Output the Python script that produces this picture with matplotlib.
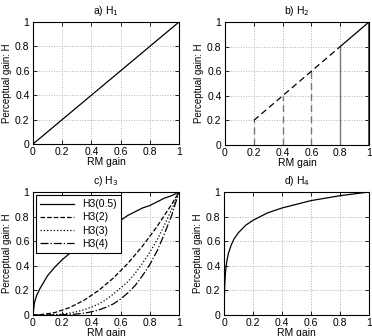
import matplotlib
matplotlib.use("Agg")
import matplotlib.pyplot as plt

plt.rcParams["font.family"] = ["Liberation Sans", "DejaVu Sans"]
plt.rcParams["font.size"] = 7.5

# a) H1: identity
h1_x = [0, 1]
h1_y = [0, 1]

# b) H2: thresholded identity
h2_thresholds = [0.2, 0.4, 0.6, 0.8, 1.0]
h2_dashed_x = [0.2, 0.8]
h2_dashed_y = [0.2, 0.8]
h2_solid_x = [0.8, 1.0]
h2_solid_y = [0.8, 1.0]

# c) H3 curves (read off the picture)
h3_x = [0, 0.01, 0.025, 0.05, 0.1, 0.15, 0.2, 0.25, 0.3, 0.35, 0.4, 0.45, 0.5,
        0.55, 0.6, 0.65, 0.7, 0.75, 0.8, 0.85, 0.9, 0.95, 1.0]
h3_05 = [0, 0.10, 0.16, 0.22, 0.32, 0.39, 0.45, 0.50, 0.55, 0.59, 0.63, 0.67, 0.71,
         0.74, 0.77, 0.81, 0.84, 0.87, 0.89, 0.92, 0.95, 0.97, 1.0]
h3_2 = [0, 0, 0, 0.003, 0.01, 0.02, 0.04, 0.06, 0.09, 0.12, 0.16, 0.20, 0.25,
        0.30, 0.36, 0.42, 0.49, 0.56, 0.64, 0.72, 0.81, 0.90, 1.0]
h3_3 = [0, 0, 0, 0, 0.001, 0.003, 0.008, 0.016, 0.027, 0.043, 0.064, 0.09, 0.125,
        0.17, 0.22, 0.27, 0.34, 0.42, 0.51, 0.61, 0.73, 0.86, 1.0]
h3_4 = [0, 0, 0, 0, 0, 0.001, 0.002, 0.004, 0.008, 0.015, 0.026, 0.041, 0.063,
        0.09, 0.13, 0.18, 0.24, 0.32, 0.41, 0.52, 0.66, 0.81, 1.0]
h3_labels = ["H3(0.5)", "H3(2)", "H3(3)", "H3(4)"]

# d) H4 curve (read off the picture)
h4_x = [0.001, 0.002, 0.004, 0.007, 0.01, 0.015, 0.02, 0.03, 0.05, 0.07, 0.1, 0.15,
        0.2, 0.3, 0.4, 0.5, 0.6, 0.7, 0.8, 0.9, 1.0]
h4_y = [0.01, 0.11, 0.21, 0.29, 0.34, 0.40, 0.44, 0.50, 0.57, 0.62, 0.67, 0.73,
        0.77, 0.83, 0.87, 0.90, 0.93, 0.95, 0.97, 0.985, 1.0]

ticks = [0, 0.2, 0.4, 0.6, 0.8, 1]
tick_labels = ["0", "0.2", "0.4", "0.6", "0.8", "1"]

fig = plt.figure(figsize=(3.72, 3.36), dpi=100)
W, H = 372, 336
boxes = {
    "a": (33, 22, 179, 144),
    "b": (225, 22, 369, 145),
    "c": (33, 192, 179, 315),
    "d": (224, 192, 369, 315),
}
axes = {}
for k, (x0, y0, x1, y1) in boxes.items():
    ax = fig.add_axes([x0 / W, 1 - y1 / H, (x1 - x0) / W, (y1 - y0) / H])
    ax.set_xlim(0, 1)
    ax.set_ylim(0, 1)
    ax.set_xticks(ticks)
    ax.set_xticklabels(tick_labels)
    ax.set_yticks(ticks)
    ax.set_yticklabels(tick_labels)
    ax.tick_params(direction="in", top=True, right=True, length=3, width=0.6, pad=2.5)
    ax.grid(True, linestyle=":", color="#b0b0b0", linewidth=0.7)
    for s in ax.spines.values():
        s.set_linewidth(0.8)
    ax.set_xlabel("RM gain", labelpad=0)
    ax.set_ylabel("Perceptual gain: H", labelpad=2, fontsize=7)
    axes[k] = ax

ax = axes["a"]
ax.plot(h1_x, h1_y, color="black", lw=0.9)
ax.set_title("a) H$_1$", fontsize=7.5, pad=6)

ax = axes["b"]
for t in h2_thresholds:
    c = "#777777" if t < 1.0 else "#444444"
    lw = 1.0 if t < 1.0 else 2.0
    if t < 0.8:
        ax.plot([t, t], [0, t], color=c, lw=lw, ls=(0, (5, 3)))
    else:
        ax.plot([t, t], [0, t], color=c, lw=lw, ls="-")
ax.plot(h2_dashed_x, h2_dashed_y, color="black", lw=0.9, ls=(0, (5, 3)))
ax.plot(h2_solid_x, h2_solid_y, color="black", lw=0.9)
ax.set_title("b) H$_2$", fontsize=7.5, pad=6)

ax = axes["c"]
ax.plot(h3_x, h3_05, color="black", lw=0.9, ls="-", label=h3_labels[0])
ax.plot(h3_x, h3_2, color="black", lw=0.9, ls="--", label=h3_labels[1])
ax.plot(h3_x, h3_3, color="black", lw=0.9, ls=":", label=h3_labels[2])
ax.plot(h3_x, h3_4, color="black", lw=0.9, ls="-.", label=h3_labels[3])
leg = ax.legend(loc="upper left", fancybox=False, edgecolor="black", framealpha=1,
                borderaxespad=0.3, handlelength=3.2, labelspacing=0.3, fontsize=7.5)
leg.get_frame().set_linewidth(0.8)
ax.set_title("c) H$_3$", fontsize=7.5, pad=6)

ax = axes["d"]
ax.plot([0] + h4_x, [0] + h4_y, color="black", lw=0.9)
ax.set_title("d) H$_4$", fontsize=7.5, pad=6)

fig.savefig("out.png", dpi=100)
